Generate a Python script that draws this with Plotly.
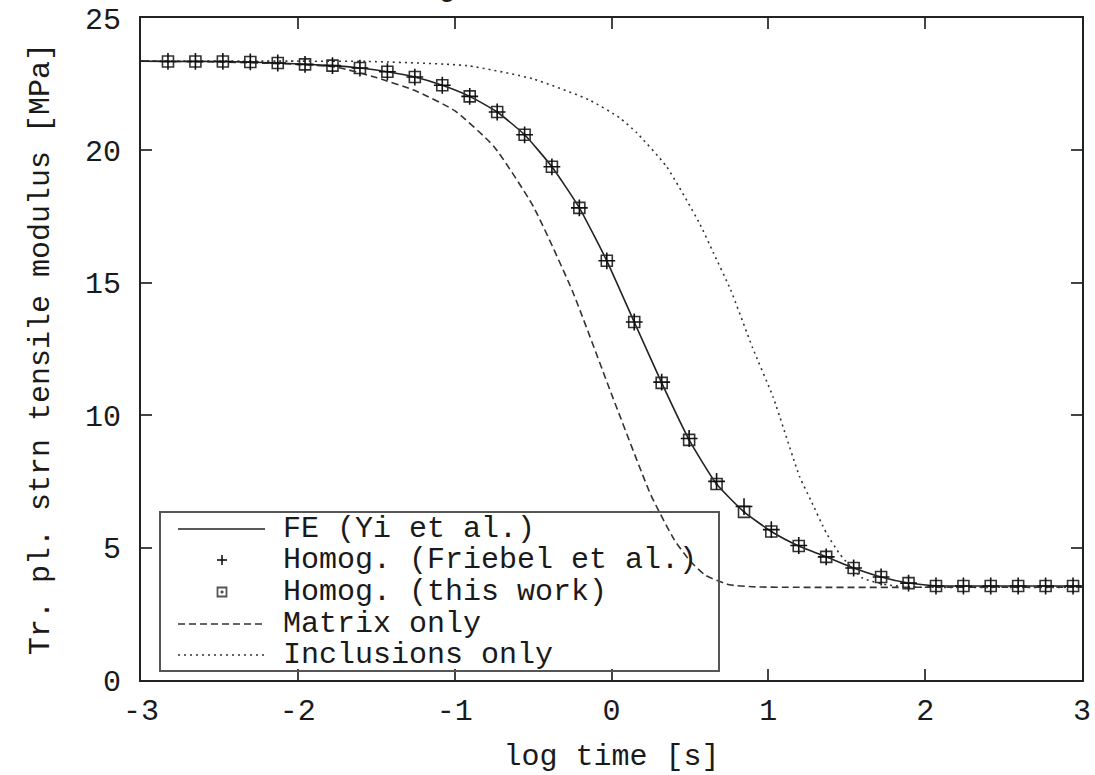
import plotly.graph_objects as go

# ---------------- data ----------------
log_time_hom = [-2.828, -2.653, -2.478, -2.303, -2.128, -1.954, -1.779, -1.604, -1.429,
                -1.254, -1.079, -0.904, -0.729, -0.554, -0.380, -0.205, -0.030, 0.145,
                0.320, 0.495, 0.670, 0.845, 1.019, 1.194, 1.369, 1.544, 1.719, 1.894,
                2.069, 2.244, 2.418, 2.593, 2.768, 2.943]

modulus_this_work = [23.36, 23.36, 23.36, 23.34, 23.30, 23.25, 23.20, 23.11, 22.97,
                     22.77, 22.46, 22.04, 21.45, 20.59, 19.38, 17.83, 15.83, 13.52,
                     11.22, 9.07, 7.40, 6.35, 5.61, 5.06, 4.65, 4.23, 3.89, 3.66,
                     3.55, 3.55, 3.55, 3.55, 3.55, 3.55]

modulus_friebel = [23.36, 23.36, 23.36, 23.34, 23.30, 23.25, 23.20, 23.11, 22.97,
                   22.77, 22.46, 22.04, 21.45, 20.59, 19.38, 17.83, 15.83, 13.52,
                   11.25, 9.12, 7.50, 6.55, 5.68, 5.08, 4.65, 4.23, 3.89, 3.66,
                   3.55, 3.55, 3.55, 3.55, 3.55, 3.55]

log_time_fe = [-3.0, -2.828, -2.478, -2.128, -1.779, -1.604, -1.429, -1.254, -1.079,
               -0.904, -0.729, -0.554, -0.380, -0.205, -0.030, 0.145, 0.320, 0.495,
               0.670, 0.845, 1.019, 1.194, 1.369, 1.544, 1.719, 1.894, 2.069, 2.5, 3.0]
modulus_fe = [23.37, 23.36, 23.36, 23.30, 23.20, 23.11, 22.97, 22.77, 22.46,
              22.04, 21.45, 20.59, 19.38, 17.83, 15.83, 13.52, 11.22, 9.07,
              7.40, 6.35, 5.61, 5.06, 4.65, 4.23, 3.89, 3.66, 3.56, 3.55, 3.55]

log_time_matrix = [-3.0, -2.5, -2.0, -1.75, -1.5, -1.25, -1.0, -0.75, -0.5, -0.25,
                   0.0, 0.25, 0.4, 0.5, 0.6, 0.75, 0.9, 1.2, 2.0, 3.0]
modulus_matrix = [23.37, 23.34, 23.25, 23.14, 22.75, 22.25, 21.5, 20.15, 17.9, 14.7,
                  10.8, 7.0, 5.3, 4.5, 3.95, 3.6, 3.52, 3.5, 3.5, 3.5]

log_time_incl = [-3.0, -2.0, -1.56, -0.92, -0.5, -0.14, 0.05, 0.16, 0.35, 0.56, 0.65,
                 0.76, 0.9, 1.03, 1.2, 1.27, 1.37, 1.46, 1.6, 1.76, 1.92, 2.5, 3.0]
modulus_incl = [23.37, 23.37, 23.36, 23.2, 22.7, 21.9, 21.24, 20.67, 19.4, 17.26, 16.13,
                14.73, 12.54, 10.69, 7.67, 6.8, 5.55, 4.72, 3.85, 3.59, 3.51, 3.5, 3.5]

x_ticks = [-3, -2, -1, 0, 1, 2, 3]
y_ticks = [0, 5, 10, 15, 20, 25]

legend_labels = ["FE (Yi et al.)", "Homog. (Friebel et al.)", "Homog. (this work)",
                 "Matrix only", "Inclusions only"]

# ---------------- layout helpers ----------------
W, H = 1095, 775
L, R, T, B = 141, 1082, 18, 680
FONT = "Liberation Mono, Courier New, monospace"
TXT = "#1a1a1a"


def PX(x):
    return (x - L) / (R - L)


def PY(y):
    return (B - y) / (B - T)


fig = go.Figure()

fig.add_trace(go.Scatter(x=log_time_matrix, y=modulus_matrix, mode="lines",
                         name=legend_labels[3], line=dict(color="#333", width=1.6, dash="7px,4px",
                                                          shape="spline", smoothing=0.5),
                         showlegend=False))
fig.add_trace(go.Scatter(x=log_time_incl, y=modulus_incl, mode="lines",
                         name=legend_labels[4], line=dict(color="#333", width=1.6, dash="2px,4px",
                                                          shape="spline", smoothing=0.5),
                         showlegend=False))
fig.add_trace(go.Scatter(x=log_time_fe, y=modulus_fe, mode="lines",
                         name=legend_labels[0], line=dict(color="#222", width=1.6,
                                                          shape="spline", smoothing=0.5),
                         showlegend=False))
fig.add_trace(go.Scatter(x=log_time_hom, y=modulus_this_work, mode="markers",
                         name=legend_labels[2],
                         marker=dict(symbol="square-open-dot", size=11, color="#333",
                                     line=dict(width=1.6, color="#333")),
                         showlegend=False))
fig.add_trace(go.Scatter(x=log_time_hom, y=modulus_friebel, mode="markers",
                         name=legend_labels[1],
                         marker=dict(symbol="cross-thin-open", size=12, color="#111",
                                     line=dict(width=1.6, color="#111")),
                         showlegend=False))

shapes = []
annotations = []

# legend box
shapes.append(dict(type="rect", xref="paper", yref="paper",
                   x0=PX(160), x1=PX(719), y0=PY(671), y1=PY(512),
                   line=dict(color="#555", width=2), fillcolor="rgba(0,0,0,0)", layer="above"))
row_y = [529, 560, 592, 624, 655]
# line samples
shapes.append(dict(type="line", xref="paper", yref="paper", x0=PX(178), x1=PX(265),
                   y0=PY(row_y[0]), y1=PY(row_y[0]), line=dict(color="#222", width=1.6)))
shapes.append(dict(type="line", xref="paper", yref="paper", x0=PX(178), x1=PX(265),
                   y0=PY(row_y[3]), y1=PY(row_y[3]), line=dict(color="#333", width=1.6, dash="7px,4px")))
shapes.append(dict(type="line", xref="paper", yref="paper", x0=PX(178), x1=PX(265),
                   y0=PY(row_y[4]), y1=PY(row_y[4]), line=dict(color="#333", width=1.6, dash="2px,4px")))
# plus sample
shapes.append(dict(type="line", xref="paper", yref="paper", x0=PX(217), x1=PX(227),
                   y0=PY(row_y[1]), y1=PY(row_y[1]), line=dict(color="#111", width=1.6)))
shapes.append(dict(type="line", xref="paper", yref="paper", x0=PX(222), x1=PX(222),
                   y0=PY(row_y[1] - 5), y1=PY(row_y[1] + 5), line=dict(color="#111", width=1.6)))
# square sample
shapes.append(dict(type="rect", xref="paper", yref="paper", x0=PX(217.5), x1=PX(226.5),
                   y0=PY(row_y[2] + 4.5), y1=PY(row_y[2] - 4.5),
                   line=dict(color="#555", width=1.8)))
shapes.append(dict(type="rect", xref="paper", yref="paper", x0=PX(221), x1=PX(223),
                   y0=PY(row_y[2] + 1), y1=PY(row_y[2] - 1),
                   line=dict(color="#555", width=1), fillcolor="#555"))

for lab, yy in zip(legend_labels, row_y):
    annotations.append(dict(text=lab, xref="paper", yref="paper", x=PX(281), y=PY(yy),
                            xanchor="left", yanchor="middle", showarrow=False, height=28,
                            font=dict(family=FONT, size=30, color=TXT)))

# cropped character at the very top
annotations.append(dict(text="g", xref="paper", yref="paper", x=PX(447), y=PY(-12),
                        xanchor="center", yanchor="middle", showarrow=False,
                        font=dict(family=FONT, size=30, color=TXT)))

axis_common = dict(showgrid=False, zeroline=False, showline=True, linecolor="#222",
                   linewidth=2, mirror="ticks", ticks="inside", ticklen=11, tickwidth=2,
                   tickcolor="#444", automargin=False,
                   tickfont=dict(family=FONT, size=30, color=TXT))

fig.update_layout(
    width=W, height=H,
    margin=dict(l=L, r=W - R, t=T, b=H - B, pad=0),
    paper_bgcolor="white", plot_bgcolor="white",
    showlegend=False,
    shapes=shapes, annotations=annotations,
    xaxis=dict(range=[-3, 3], tickvals=x_ticks, ticktext=[str(v) for v in x_ticks],
               ticklabelstandoff=2,
               title=dict(text="log time [s]", font=dict(family=FONT, size=30, color=TXT),
                          standoff=16),
               **axis_common),
    yaxis=dict(range=[0, 25], tickvals=y_ticks, ticktext=[str(v) for v in y_ticks],
               ticklabelstandoff=12,
               title=dict(text="Tr. pl. strn tensile modulus [MPa]",
                          font=dict(family=FONT, size=30, color=TXT), standoff=26),
               **axis_common),
)

fig.write_html("out.html")
